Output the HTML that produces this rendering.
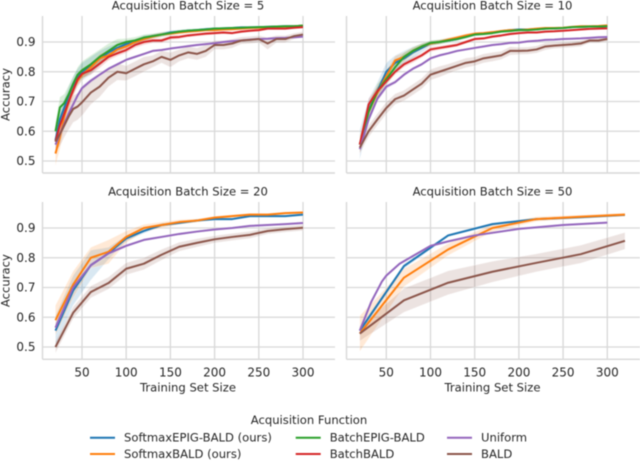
<!DOCTYPE html>
<html>
<head>
<meta charset="utf-8">
<style>
html,body{margin:0;padding:0;background:#fff;}
#chart{display:block;width:640px;height:461px;filter:blur(0.45px);font-family:"DejaVu Sans","Liberation Sans",sans-serif;}
</style>
</head>
<body>
<svg id="chart" xmlns="http://www.w3.org/2000/svg" width="640" height="461" viewBox="0 0 640 461"></svg>
<script>
// ---------- data ----------
const xTickLabels = [50, 100, 150, 200, 250, 300];
const yTickLabels = [0.5, 0.6, 0.7, 0.8, 0.9];

const panelTitles = ["Acquisition Batch Size = 5", "Acquisition Batch Size = 10", "Acquisition Batch Size = 20", "Acquisition Batch Size = 50"];

const seriesNames = ["SoftmaxEPIG-BALD (ours)", "SoftmaxBALD (ours)", "BatchEPIG-BALD", "BatchBALD", "Uniform", "BALD"];

const x5 = [20,25,30,35,40,45,50,60,70,80,90,100,110,120,130,140,150,160,170,180,190,200,210,220,230,240,250,260,270,280,290,300];
const blue5 = [.57,.64,.68,.72,.755,.78,.80,.82,.845,.865,.88,.893,.90,.913,.92,.925,.932,.935,.938,.94,.943,.945,.946,.947,.949,.949,.95,.951,.952,.953,.953,.955];
const orange5 = [.525,.58,.65,.70,.74,.77,.79,.815,.845,.855,.875,.885,.90,.91,.918,.925,.928,.932,.935,.937,.94,.94,.942,.943,.945,.947,.948,.949,.95,.952,.953,.955];
const green5 = [.60,.68,.695,.725,.76,.79,.805,.825,.85,.87,.89,.90,.905,.915,.92,.925,.93,.935,.938,.94,.942,.945,.946,.947,.948,.949,.95,.951,.952,.953,.953,.955];
const red5 = [.565,.62,.66,.70,.738,.775,.793,.805,.827,.85,.862,.873,.89,.90,.905,.905,.915,.917,.922,.925,.928,.93,.932,.93,.935,.938,.94,.945,.945,.945,.948,.95];
const purple5 = [.555,.59,.625,.66,.69,.72,.745,.77,.79,.81,.825,.84,.85,.86,.87,.873,.878,.882,.886,.89,.893,.896,.90,.903,.905,.908,.91,.911,.913,.914,.916,.918];
const brown5 = [.565,.59,.62,.65,.675,.683,.697,.73,.75,.78,.80,.795,.81,.825,.835,.85,.84,.855,.865,.86,.87,.89,.89,.895,.905,.907,.91,.895,.91,.91,.92,.925];
const blue5Spread = [.03,.03,.03,.03,.03,.03,.03,.03,.025,.02,.015,.012,.01,.01,.008,.008,.007,.006,.006,.005,.005,.005,.004,.004,.004,.004,.004,.004,.003,.003,.003,.003];
const orange5Spread = [.04,.04,.035,.03,.025,.02,.02,.015,.015,.015,.012,.01,.01,.008,.008,.007,.006,.006,.005,.005,.005,.005,.004,.004,.004,.004,.004,.003,.003,.003,.003,.003];
const green5Spread = [.03,.035,.03,.03,.025,.025,.03,.03,.025,.025,.02,.012,.012,.01,.008,.008,.007,.006,.006,.005,.005,.004,.004,.004,.004,.004,.004,.004,.003,.003,.003,.003];
const red5Spread = [.025,.025,.025,.02,.02,.02,.015,.015,.015,.012,.01,.01,.01,.01,.008,.008,.008,.007,.006,.006,.006,.005,.005,.005,.005,.005,.005,.004,.004,.004,.004,.004];
const purple5Spread = [.02,.015,.012,.01,.01,.008,.008,.007,.006,.005,.005,.004,.004,.004,.004,.003,.003,.003,.003,.003,.003,.003,.003,.003,.003,.003,.003,.002,.002,.002,.002,.002];
const brown5Spread = [.035,.04,.04,.045,.045,.045,.045,.04,.035,.03,.028,.025,.025,.025,.02,.02,.025,.02,.02,.02,.02,.015,.015,.015,.012,.012,.012,.02,.012,.012,.01,.01];

const x10 = [20,30,40,50,60,70,80,90,100,110,120,130,140,150,160,170,180,190,200,210,220,230,240,250,260,270,280,290,300];
const blue10 = [.555,.67,.735,.80,.83,.845,.865,.88,.895,.90,.905,.91,.918,.925,.928,.932,.936,.94,.942,.942,.943,.945,.946,.947,.95,.951,.952,.952,.953];
const orange10 = [.555,.665,.73,.785,.838,.85,.87,.885,.895,.90,.908,.915,.922,.928,.93,.933,.937,.94,.94,.942,.945,.947,.947,.948,.951,.953,.953,.954,.956];
const green10 = [.555,.665,.735,.775,.815,.85,.87,.885,.897,.90,.905,.91,.917,.925,.927,.93,.935,.937,.94,.94,.942,.945,.946,.947,.95,.951,.952,.952,.953];
const red10 = [.555,.69,.735,.768,.80,.825,.84,.855,.875,.88,.885,.89,.90,.91,.912,.918,.922,.927,.93,.932,.932,.935,.936,.938,.94,.942,.944,.945,.946];
const purple10 = [.54,.64,.71,.75,.765,.79,.81,.825,.845,.855,.862,.87,.875,.88,.885,.89,.893,.897,.898,.902,.904,.907,.908,.91,.911,.912,.914,.916,.917];
const brown10 = [.545,.60,.64,.678,.708,.72,.74,.76,.79,.80,.81,.82,.83,.835,.845,.85,.855,.87,.87,.871,.875,.885,.888,.89,.892,.895,.905,.905,.91];
const blue10Spread = [.05,.04,.03,.03,.025,.025,.02,.015,.01,.008,.008,.006,.006,.005,.005,.005,.004,.004,.004,.004,.003,.003,.003,.003,.003,.003,.003,.003,.003];
const orange10Spread = [.03,.03,.025,.02,.015,.015,.012,.01,.008,.008,.007,.006,.006,.005,.005,.005,.004,.004,.004,.004,.003,.003,.003,.003,.003,.003,.003,.003,.003];
const green10Spread = [.03,.03,.025,.02,.02,.015,.012,.01,.008,.008,.007,.006,.006,.005,.005,.005,.004,.004,.004,.004,.003,.003,.003,.003,.003,.003,.003,.003,.003];
const red10Spread = [.02,.02,.015,.012,.01,.01,.01,.008,.008,.007,.007,.006,.006,.005,.005,.005,.005,.005,.004,.004,.004,.004,.004,.003,.003,.003,.003,.003,.003];
const purple10Spread = [.02,.012,.01,.008,.006,.006,.005,.005,.004,.004,.004,.004,.003,.003,.003,.003,.003,.003,.003,.003,.003,.002,.002,.002,.002,.002,.002,.002,.002];
const brown10Spread = [.02,.02,.02,.02,.018,.018,.018,.018,.018,.018,.016,.016,.016,.015,.015,.015,.014,.014,.012,.012,.012,.012,.01,.01,.01,.01,.008,.008,.008];

const x20 = [20,40,60,80,100,120,140,160,180,200,220,240,260,280,300];
const blue20 = [.555,.69,.775,.815,.865,.89,.91,.917,.925,.93,.93,.94,.94,.94,.945];
const orange20 = [.59,.71,.80,.82,.87,.90,.91,.92,.925,.935,.94,.945,.945,.95,.952];
const purple20 = [.565,.70,.775,.815,.84,.86,.87,.88,.888,.895,.90,.907,.91,.913,.917];
const brown20 = [.50,.615,.685,.715,.763,.78,.81,.837,.85,.862,.87,.877,.89,.896,.901];
const blue20Spread = [.05,.05,.05,.02,.01,.008,.006,.005,.005,.004,.004,.004,.004,.004,.003];
const orange20Spread = [.05,.045,.035,.04,.02,.012,.01,.008,.006,.005,.005,.005,.004,.004,.004];
const purple20Spread = [.015,.01,.008,.006,.005,.004,.004,.004,.003,.003,.003,.003,.003,.003,.003];
const brown20Spread = [.02,.02,.02,.02,.02,.02,.018,.015,.014,.012,.012,.012,.01,.01,.01];

const x50 = [20,70,120,170,220,270,320];
const blue50 = [.555,.772,.875,.913,.93,.936,.944];
const orange50 = [.545,.733,.828,.90,.93,.938,.945];
const brown50 = [.545,.657,.716,.753,.783,.812,.857];
const blue50Spread = [.01,.008,.005,.004,.004,.003,.003];
const orange50Spread = [.06,.03,.02,.012,.008,.006,.006];
const brown50Spread = [.025,.04,.04,.035,.03,.03,.028];
const xUniform50 = [20,33,45,50,65,100,120,150,200,250,300];
const purple50 = [.555,.652,.72,.74,.78,.84,.855,.875,.897,.91,.918];
const purple50Spread = [.01,.008,.006,.005,.004,.003,.003,.003,.003,.003,.003];

const palette = ["#1f77b4", "#ff7f0e", "#2ca02c", "#d62728", "#9467bd", "#8c564b"];

const panels = [
  {left:42.5, right:335, top:16, bottom:173, y09:42, x50:82, x300:303, xLabels:false, yLabels:true, name:"batch-5", series:[
    {c:0,x:x5,y:blue5,s:blue5Spread},{c:1,x:x5,y:orange5,s:orange5Spread},{c:2,x:x5,y:green5,s:green5Spread},{c:3,x:x5,y:red5,s:red5Spread},{c:4,x:x5,y:purple5,s:purple5Spread},{c:5,x:x5,y:brown5,s:brown5Spread}]},
  {left:346.5, right:640, top:16, bottom:173, y09:42, x50:386.3, x300:607.3, xLabels:false, yLabels:false, name:"batch-10", series:[
    {c:0,x:x10,y:blue10,s:blue10Spread},{c:1,x:x10,y:orange10,s:orange10Spread},{c:2,x:x10,y:green10,s:green10Spread},{c:3,x:x10,y:red10,s:red10Spread},{c:4,x:x10,y:purple10,s:purple10Spread},{c:5,x:x10,y:brown10,s:brown10Spread}]},
  {left:42.5, right:335, top:202, bottom:359.3, y09:228, x50:82, x300:303, xLabels:true, yLabels:true, name:"batch-20", series:[
    {c:0,x:x20,y:blue20,s:blue20Spread},{c:1,x:x20,y:orange20,s:orange20Spread},{c:4,x:x20,y:purple20,s:purple20Spread},{c:5,x:x20,y:brown20,s:brown20Spread}]},
  {left:346.5, right:640, top:202, bottom:359.3, y09:228, x50:386.3, x300:607.3, xLabels:true, yLabels:false, name:"batch-50", series:[
    {c:0,x:x50,y:blue50,s:blue50Spread},{c:1,x:x50,y:orange50,s:orange50Spread},{c:4,x:xUniform50,y:purple50,s:purple50Spread},{c:5,x:x50,y:brown50,s:brown50Spread}]}
];

// ---------- drawing ----------
const svg = document.getElementById('chart');
const NS = 'http://www.w3.org/2000/svg';
const TEXT = '#262626';
const GRID = '#d8d8d8';
const LABEL_SIZE = 11.6;
const TICK_SIZE = 12;
function make(tag, attrs, parent) {
  const el = document.createElementNS(NS, tag);
  for (const k in attrs) el.setAttribute(k, attrs[k]);
  (parent || svg).appendChild(el);
  return el;
}
function label(str, x, y, size, anchor, parent) {
  const t = make('text', {x:x, y:y, 'font-size':size, 'text-anchor':anchor, fill:TEXT, 'dominant-baseline':'central'}, parent);
  t.textContent = str;
  return t;
}

panels.forEach(function (p, pi) {
  const g = make('g', {});
  
  
  const sx = function (v) { return p.x50 + (v - 50) * (p.x300 - p.x50) / 250; };
  const sy = function (v) { return p.y09 + (0.9 - v) * 297.5; };

  yTickLabels.forEach(function (v) {
    const l = make('line', {x1:p.left, x2:p.right, y1:sy(v), y2:sy(v), stroke:GRID, 'stroke-width':1.3}, g);
    
    
    if (p.yLabels) {
      const t = label(v.toFixed(1), 35.5, sy(v), TICK_SIZE, 'end', g);
      
      
    }
  });
  xTickLabels.forEach(function (v) {
    const l = make('line', {x1:sx(v), x2:sx(v), y1:p.top, y2:p.bottom, stroke:GRID, 'stroke-width':1.3}, g);
    
    
    if (p.xLabels) {
      const t = label(String(v), sx(v), 372.7, TICK_SIZE, 'middle', g);
      
      
    }
  });
  const spineL = make('line', {x1:p.left, x2:p.left, y1:p.top, y2:p.bottom, stroke:GRID, 'stroke-width':1.4}, g);
  
  
  const spineB = make('line', {x1:p.left, x2:p.right, y1:p.bottom, y2:p.bottom, stroke:GRID, 'stroke-width':1.4}, g);
  
  

  p.series.forEach(function (s) {
    const up = s.x.map(function (v, i) { return sx(v).toFixed(2) + ',' + sy(s.y[i] + s.s[i]).toFixed(2); });
    const dn = s.x.map(function (v, i) { return sx(v).toFixed(2) + ',' + sy(s.y[i] - s.s[i]).toFixed(2); }).reverse();
    const band = make('polygon', {points:up.concat(dn).join(' '), fill:palette[s.c], 'fill-opacity':0.17, stroke:'#fff', 'stroke-opacity':0.35, 'stroke-width':0.6}, g);
    
    
  });
  p.series.forEach(function (s) {
    const pts = s.x.map(function (v, i) { return sx(v).toFixed(2) + ',' + sy(s.y[i]).toFixed(2); }).join(' ');
    const line = make('polyline', {points:pts, fill:'none', stroke:palette[s.c], 'stroke-width':2, 'stroke-linejoin':'round'}, g);
    
    
  });

  const cx = pi % 2 === 0 ? 188 : 492.5;
  const title = label(panelTitles[pi], cx, p.top - 10.3, LABEL_SIZE, 'middle', g);
  
  
  if (p.xLabels) {
    const xt = label('Training Set Size', cx, 387.5, LABEL_SIZE, 'middle', g);
    
    
  }
  if (p.yLabels) {
    const yc = (p.top + p.bottom) / 2;
    const yt = label('Accuracy', 0, 0, LABEL_SIZE, 'middle', g);
    yt.setAttribute('transform', 'translate(5.5,' + yc + ') rotate(-90)');
    
    
  }
});

// legend
const legend = make('g', {});


const legendTitle = label('Acquisition Function', 309, 420, LABEL_SIZE, 'middle', legend);


seriesNames.forEach(function (name, i) {
  const col = Math.floor(i / 2);
  const row = i % 2;
  const y = row === 0 ? 437.7 : 454;
  const x0 = [90, 295.7, 447][col];
  const entry = make('g', {}, legend);
  
  
  make('line', {x1:x0, x2:x0 + 25, y1:y, y2:y, stroke:palette[i], 'stroke-width':2}, entry);
  label(name, x0 + 34, y, LABEL_SIZE, 'start', entry);
});
</script>
</body>
</html>
